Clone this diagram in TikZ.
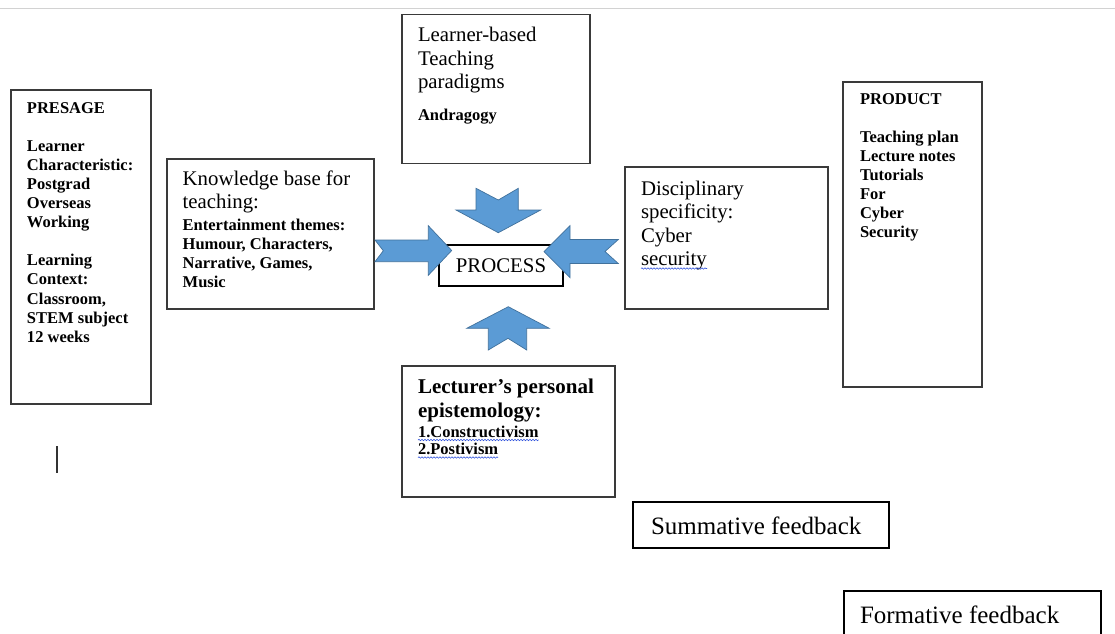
\documentclass[tikz,border=0pt]{standalone}
\usepackage{fontspec}
\setmainfont{Liberation Serif}
\usetikzlibrary{decorations.pathmorphing}

\definecolor{arrowfill}{HTML}{5B9BD5}
\definecolor{arrowline}{HTML}{41719C}
\definecolor{boxline}{HTML}{3A3A3A}
\definecolor{spellblue}{HTML}{3355DD}

% font sizes: large regular text, small bold lists, large bold heading
\newcommand{\bigrm}{\fontsize{20.8}{23.6}\selectfont}
\newcommand{\smallbf}{\fontsize{16.5}{19.1}\selectfont\bfseries}
\newcommand{\bigbf}{\fontsize{21}{24}\selectfont\bfseries}

\tikzset{
  panel/.style={draw=boxline, line width=1.2pt, rectangle, inner sep=0pt,
    outer sep=0pt, anchor=north west},
  heavypanel/.style={draw=black, line width=2pt, rectangle, inner sep=0pt,
    outer sep=0pt, anchor=north west},
  txt/.style={anchor=base west, inner sep=0pt, outer sep=0pt},
  blockarrow/.style={fill=arrowfill, draw=arrowline, line width=0.7pt,
    line join=miter},
  spellmark/.style={draw=spellblue, line width=0.6pt,
    decorate, decoration={snake, amplitude=0.7pt, segment length=3pt}}
}

\begin{document}
\begin{tikzpicture}[x=1pt, y=-1pt]
  \useasboundingbox[fill=white] (0,0) rectangle (1115,633);
  \clip (0,0) rectangle (1115,633);

  % page edge line at the top
  \draw[gray!35, line width=1pt] (0,8) -- (1115,8);

  % ---- boxes ----
  \node[panel, minimum width=140pt, minimum height=314pt] (presage) at (11,90) {};
  \node[panel, minimum width=207pt, minimum height=150pt] (know) at (167,159) {};
  \node[panel, minimum width=188pt, minimum height=149pt] (paradigm) at (402,14.7) {};
  \node[panel, minimum width=203pt, minimum height=142pt] (disc) at (625,167) {};
  \node[panel, minimum width=213pt, minimum height=131pt] (lect) at (402,366) {};
  \node[panel, minimum width=139pt, minimum height=305pt] (product) at (843,82) {};
  \node[heavypanel, minimum width=124pt, minimum height=41pt] (process) at (439,245) {};
  \node[heavypanel, minimum width=256pt, minimum height=46pt] (summ) at (633,502) {};
  \node[heavypanel, minimum width=257pt, minimum height=69pt] (form) at (844,591) {};

  % ---- texts ----
  \node[txt] (presagetxt) at (27,113) {\parbox[t]{130pt}{\smallbf
    PRESAGE\\[19.1pt]
    Learner\\ Characteristic:\\ Postgrad\\ Overseas\\ Working\\[19.1pt]
    Learning\\ Context:\\ Classroom,\\ STEM subject\\ 12 weeks}};

  \node[txt] (knowtitle) at (182.7,185) {\parbox[t]{190pt}{\bigrm
    Knowledge base for\\ teaching:}};
  \node[txt] (knowbody) at (182.7,230) {\parbox[t]{190pt}{\smallbf
    Entertainment themes:\\ Humour, Characters,\\ Narrative, Games,\\ Music}};

  \node[txt] (paradigmtitle) at (418,41.7) {\parbox[t]{170pt}{\bigrm
    Learner-based\\ Teaching\\ paradigms}};
  \node[txt] (paradigmbody) at (418,120) {\smallbf Andragogy};

  \node[txt] (disctxt) at (641,195) {\parbox[t]{180pt}{\bigrm
    Disciplinary\\ specificity:\\ Cyber\\ security}};

  \node[txt] (lecttitle) at (418,393) {\parbox[t]{200pt}{\bigbf
    Lecturer’s personal\\ epistemology:}};
  \node[txt] (lectone) at (418,437) {\smallbf 1.Constructivism};
  \node[txt] (lecttwo) at (418,454.5) {\smallbf 2.Postivism};

  \node[txt] (producttxt) at (860,104) {\parbox[t]{120pt}{\smallbf
    PRODUCT\\[19.1pt]
    Teaching plan\\ Lecture notes\\ Tutorials\\ For\\ Cyber\\ Security}};

  \node[anchor=base, inner sep=0pt] (processtxt) at (501,272) {\bigrm PROCESS};
  \node[txt] (summtxt) at (651,534) {\fontsize{25}{28}\selectfont Summative feedback};
  \node[txt] (formtxt) at (860,623) {\fontsize{25}{28}\selectfont Formative feedback};

  % spell-check underlines
  \draw[spellmark] (lectone.base west) ++(0,3) coordinate (s1a) -- (s1a -| lectone.base east);
  \draw[spellmark] (lecttwo.base west) ++(0,3) coordinate (s2a) -- (s2a -| lecttwo.base east);
  \coordinate (s3a) at (641,268.5);
  \coordinate (s3b) at (707,268.5);
  \draw[spellmark] (s3a) -- (s3b);

  % text cursor
  \coordinate (cursortop) at (57,446);
  \coordinate (cursorbot) at (57,473);
  \draw[black!80, line width=1.3pt] (cursortop) -- (cursorbot);

  % ---- notched block arrows pointing at PROCESS ----
  % from above
  \path[blockarrow] (476,188.3) -- (498.3,200) -- (518.3,188.3) -- (518.3,210)
    -- (540.7,210) -- (498.3,232.7) -- (456,210) -- (476,210) -- cycle;
  % from below
  \path[blockarrow] (508.3,306.7) -- (549.3,328.3) -- (526.7,328.3) -- (526.7,350)
    -- (508,338.3) -- (488.3,350) -- (488.3,328.3) -- (466.7,328.3) -- cycle;
  % from the left
  \path[blockarrow] (375,240) -- (428.3,240) -- (428.3,225.7) -- (451.7,250.5)
    -- (428.3,275.3) -- (428.3,261.7) -- (375,261.7) -- (383.3,250.7) -- cycle;
  % from the right
  \path[blockarrow] (618.3,239.5) -- (570,239.5) -- (570,225.7) -- (544,251.7)
    -- (570,277.7) -- (570,263.5) -- (618.3,263.5) -- (605,251.5) -- cycle;
\end{tikzpicture}
\end{document}
